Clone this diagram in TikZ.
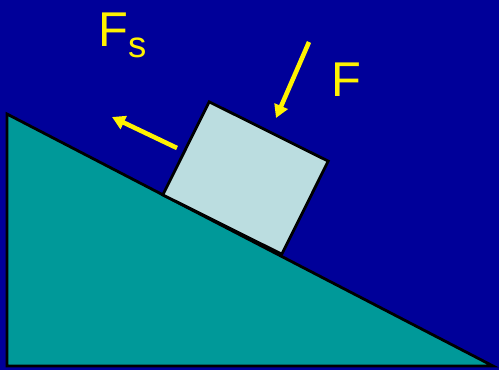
\documentclass[tikz,border=0pt]{standalone}
\usepackage{fontspec}
\setmainfont{Liberation Sans}
\usetikzlibrary{arrows.meta}
\definecolor{skyblue}{RGB}{0,0,153}
\definecolor{rampteal}{RGB}{0,153,153}
\definecolor{blockblue}{RGB}{187,221,224}
\begin{document}
\begin{tikzpicture}[
  x=0.02cm, y=0.02cm,
  block/.style={rectangle, draw=black, line width=1.6pt, fill=blockblue, minimum width=2.66cm, minimum height=2.08cm, rotate=-26.5, inner sep=0pt},
  force/.style={-{Triangle[length=0.26cm, width=0.28cm]}, line width=2.6pt, draw=yellow},
  lbl/.style={text=yellow, font=\fontsize{27.8}{30}\selectfont, inner sep=0pt}
]
  \fill[skyblue] (0,0) rectangle (499,370);
  \useasboundingbox (0,0) rectangle (499,370);

  % incline
  \coordinate (top) at (7,256);
  \coordinate (corner) at (7,4);
  \coordinate (foot) at (493,4);
  \filldraw[fill=rampteal, draw=black, line width=1.6pt, line join=miter] (top) -- (corner) -- (foot) -- cycle;

  % block on the slope
  \node[block] (box) at (245.5,192) {};

  % forces
  \coordinate (push) at (309,328);
  \coordinate (pushend) at (276,252);
  \coordinate (frict) at (177,222);
  \coordinate (frictend) at (112,253);
  \draw[force] (push) -- (pushend);
  \draw[force] (frict) -- (frictend);

  \node[lbl, anchor=base west] (flbl) at (331,274) {F};
  \node[lbl, anchor=base west] (fslbl) at (98,324) {F\raisebox{-0.22cm}{\fontsize{20.8}{24}\selectfont s}};
\end{tikzpicture}
\end{document}
